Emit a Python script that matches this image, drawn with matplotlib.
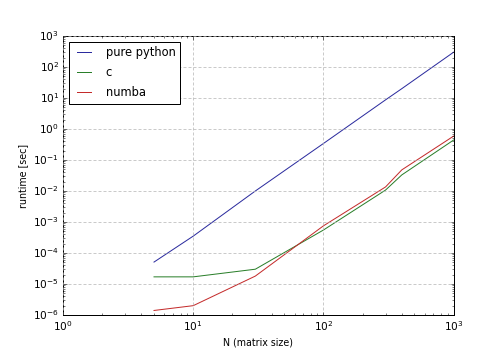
import matplotlib
matplotlib.use("Agg")
import matplotlib.pyplot as plt

plt.style.use('classic')
plt.rcParams['font.family'] = ['DejaVu Sans']
plt.rcParams['font.size'] = 10.5

N = [5, 10, 30, 100, 300, 400, 1000]
pure_python = [5.1e-5, 3.5e-4, 1.0e-2, 0.34, 8.7, 20.0, 300.0]
c_times = [1.7e-5, 1.7e-5, 3.0e-5, 5.5e-4, 1.07e-2, 3.3e-2, 0.44]
numba_times = [1.4e-6, 2.0e-6, 1.8e-5, 7.5e-4, 1.35e-2, 4.8e-2, 0.59]

fig = plt.figure(figsize=(7, 5), dpi=72, facecolor='white')
ax = fig.add_axes([0.125, 0.125, 0.775, 0.775])
ax.loglog(N, pure_python, color='#2b2b9e', lw=1.0, label='pure python')
ax.loglog(N, c_times, color='#2a7f2a', lw=1.0, label='c')
ax.loglog(N, numba_times, color='#c42b2b', lw=1.0, label='numba')
ax.set_xlim(1, 1000)
ax.set_ylim(1e-6, 1e3)
ax.grid(True, which='major', color='#b4b4b4', linestyle=(0, (3, 2)), linewidth=0.7)
ax.tick_params(which='major', length=3.5, labelsize=10.5)
ax.tick_params(which='minor', length=1.8)
ax.set_xlabel('N (matrix size)', fontsize=9.5)
ax.set_ylabel('runtime [sec]', fontsize=9.5)
leg = ax.legend(loc='upper left', fontsize=11.5, fancybox=False,
                labelspacing=0.6, handlelength=1.8, handletextpad=1.0,
                borderaxespad=0.5)
leg.get_frame().set_edgecolor('black')
fig.savefig('out.png', dpi=72, facecolor='white')
